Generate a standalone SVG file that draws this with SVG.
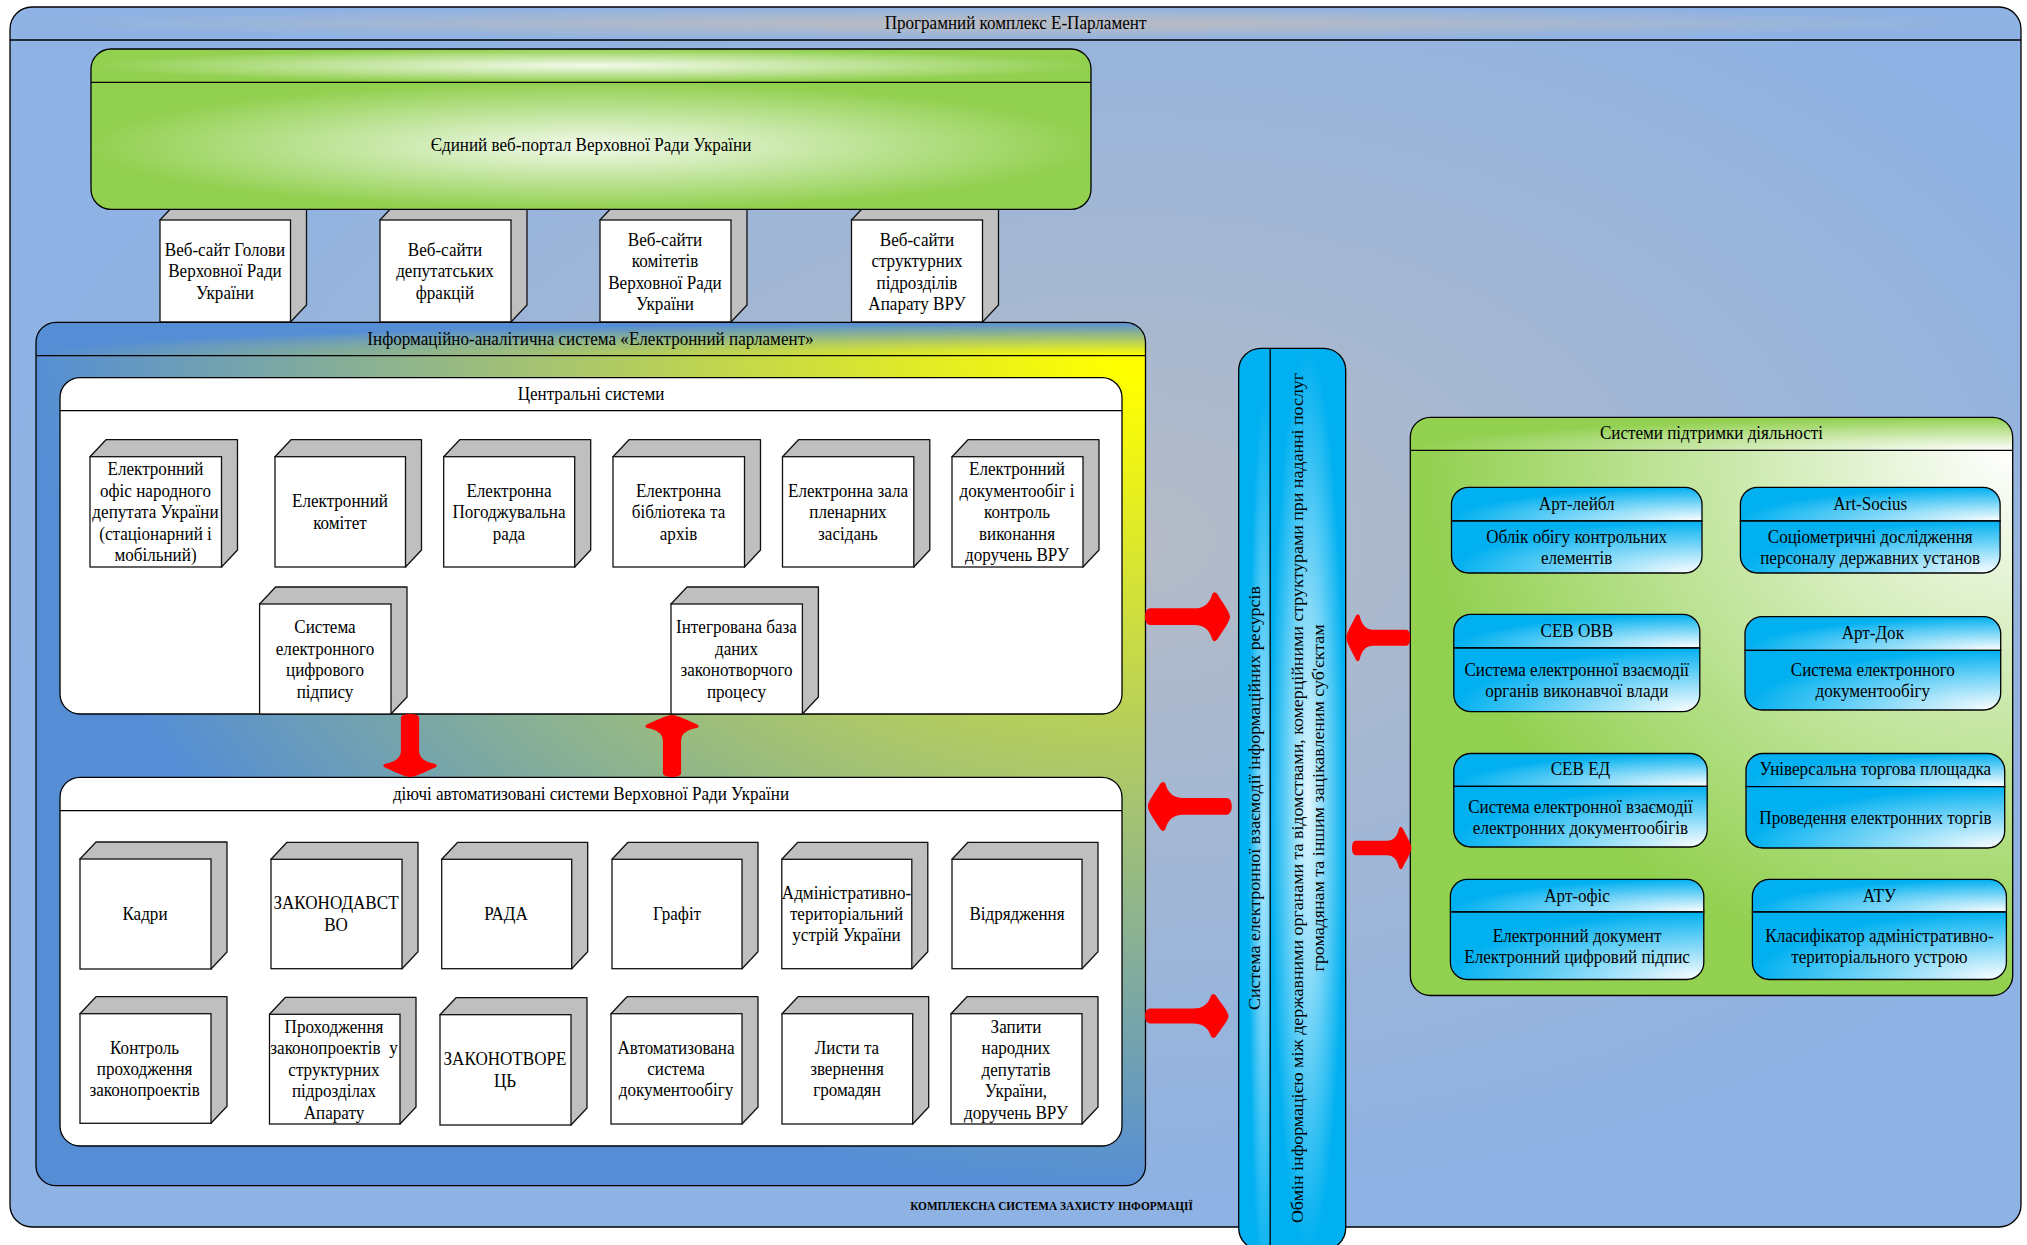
<svg xmlns="http://www.w3.org/2000/svg" width="2027" height="1245" viewBox="0 0 2027 1245">
<style>
text{font-family:"Liberation Serif","Times New Roman",serif;font-size:17.9px;fill:#000;text-anchor:middle}
text:not(.v){transform-box:fill-box;transform-origin:center;transform:scaleX(.954)}
.b{font-size:11.85px;font-weight:bold}
.l{stroke:#000;stroke-width:1.3;fill:none}
.s{fill:#bfbfbf;stroke:#111;stroke-width:1.3;stroke-linejoin:round}
.f{fill:#fff;stroke:#111;stroke-width:1.3}
.w{fill:#fff;stroke:#000;stroke-width:1.3}
.n{fill:url(#gBlue);stroke:#000;stroke-width:1.3}
.ar{fill:#f00;stroke:none}
</style>
<defs>
<radialGradient id="gOuter" cx="0.55" cy="0.42" r="0.55"><stop offset="0" stop-color="#b5bbc6"/><stop offset="1" stop-color="#8eb2e3"/></radialGradient>
<radialGradient id="gOuterT" cx="0.5" cy="0.5" r="0.5"><stop offset="0.2" stop-color="#b5bbc6"/><stop offset="1" stop-color="#8eb2e3"/></radialGradient>
<radialGradient id="gPortal" cx="0.5" cy="0.5" r="0.5"><stop offset="0" stop-color="#f2faeb"/><stop offset="1" stop-color="#92d050"/></radialGradient>
<radialGradient id="gIas" cx="1" cy="0" r="1"><stop offset="0.03" stop-color="#ffff00"/><stop offset="1" stop-color="#558ed5"/></radialGradient>
<radialGradient id="gIasT" cx="1" cy="1" r="1"><stop offset="0" stop-color="#ffff00"/><stop offset="1" stop-color="#558ed5"/></radialGradient>
<radialGradient id="gSup" cx="1" cy="0" r="0.98"><stop offset="0" stop-color="#ffffff"/><stop offset="1" stop-color="#92d050"/></radialGradient>
<radialGradient id="gSupT" cx="1" cy="1" r="1"><stop offset="0" stop-color="#ffffff"/><stop offset="1" stop-color="#92d050"/></radialGradient>
<radialGradient id="gBlue" cx="1" cy="1" r="1"><stop offset="0" stop-color="#ffffff"/><stop offset="1" stop-color="#00b0f0"/></radialGradient>
<radialGradient id="gBus1" cx="0.8" cy="0.55" r="0.5"><stop offset="0" stop-color="#b5e8fd"/><stop offset="1" stop-color="#00b0f0"/></radialGradient>
<radialGradient id="gBus2" cx="0.5" cy="0.5" r="0.5"><stop offset="0" stop-color="#e6f8ff"/><stop offset="1" stop-color="#00b0f0"/></radialGradient>
<path id="arrow" d="M6,-17H58C70,-17 76,-28 79,-46Q80,-50 82,-50Q84,-50 86,-44C90,-32 100,-10 100,0C100,10 90,32 86,44Q84,50 82,50Q80,50 79,46C76,28 70,17 58,17H6C-2,17 -2,-17 6,-17Z"/>
</defs>

<g id="outer">
<path d="M10,40V29A22,22 0 0 1 32,7H1999A22,22 0 0 1 2021,29V40Z" fill="url(#gOuterT)"/>
<path d="M10,40H2021V1205A22,22 0 0 1 1999,1227H32A22,22 0 0 1 10,1205Z" fill="url(#gOuter)"/>
<rect class="l" x="10" y="7" width="2011" height="1220" rx="22"/>
<path class="l" d="M10,40H2021"/>
<text x="1015.500" y="29.500">Програмний комплекс Е-Парламент</text>
<text class="b" x="1051.500" y="1210">КОМПЛЕКСНА СИСТЕМА ЗАХИСТУ ІНФОРМАЦІЇ</text>
</g>

<g id="site1"><path class="s" d="M160,220l16,-17h130.500v102l-16,17z"/><rect class="f" x="160" y="220" width="130.500" height="102"/><text><tspan x="225" y="256">Веб-сайт Голови</tspan><tspan x="225" y="277.500">Верховної Ради</tspan><tspan x="225" y="299">України</tspan></text></g>
<g id="site2"><path class="s" d="M380,220l16,-17h131v102l-16,17z"/><rect class="f" x="380" y="220" width="131" height="102"/><text><tspan x="445" y="256">Веб-сайти</tspan><tspan x="445" y="277.500">депутатських</tspan><tspan x="445" y="299">фракцій</tspan></text></g>
<g id="site3"><path class="s" d="M600,220l16,-17h131v102l-16,17z"/><rect class="f" x="600" y="220" width="131" height="102"/><text><tspan x="665" y="246">Веб-сайти</tspan><tspan x="665" y="267.500">комітетів</tspan><tspan x="665" y="289">Верховної Ради</tspan><tspan x="665" y="310.500">України</tspan></text></g>
<g id="site4"><path class="s" d="M851.500,220l16,-17h131v102l-16,17z"/><rect class="f" x="851.500" y="220" width="131" height="102"/><text><tspan x="917" y="246">Веб-сайти</tspan><tspan x="917" y="267.500">структурних</tspan><tspan x="917" y="289">підрозділів</tspan><tspan x="917" y="310.500">Апарату ВРУ</tspan></text></g>

<g id="portal">
<path d="M91,82.300V69A20,20 0 0 1 111,49H1071A20,20 0 0 1 1091,69V82.300Z" fill="url(#gPortal)"/>
<path d="M91,82.300H1091V189A20,20 0 0 1 1071,209.300H111A20,20 0 0 1 91,189Z" fill="url(#gPortal)"/>
<rect class="l" x="91" y="49" width="1000" height="160.300" rx="20"/>
<path class="l" d="M91,82.300H1091"/>
<text x="591" y="151">Єдиний веб-портал Верховної Ради України</text>
</g>

<g id="ias">
<path d="M36,355.700V342A20,20 0 0 1 56,322.300H1125.500A20,20 0 0 1 1145.500,342V355.700Z" fill="url(#gIasT)"/>
<path d="M36,355.700H1145.500V1166A20,20 0 0 1 1125.500,1185.700H56A20,20 0 0 1 36,1166Z" fill="url(#gIas)"/>
<rect class="l" x="36" y="322.300" width="1109.500" height="863.400" rx="20"/>
<path class="l" d="M36,355.700H1145.500"/>
<text x="590.500" y="345.500">Інформаційно-аналітична система «Електронний парламент»</text>
</g>

<g id="central">
<rect class="w" x="60" y="377.700" width="1062" height="336.300" rx="20"/>
<path class="l" d="M60,410.700H1122"/>
<text x="591" y="400.500">Центральні системи</text>
</g>

<g id="c1"><path class="s" d="M90,456.700l16,-17h131.500v110.300l-16,17z"/><rect class="f" x="90" y="456.700" width="131.500" height="110.300"/><text><tspan x="155.500" y="475.500">Електронний</tspan><tspan x="155.500" y="497">офіс народного</tspan><tspan x="155.500" y="518.300">депутата України</tspan><tspan x="155.500" y="539.700">(стаціонарний і</tspan><tspan x="155.500" y="561">мобільний)</tspan></text></g>
<g id="c2"><path class="s" d="M275,456.700l16,-17h130.500v110.300l-16,17z"/><rect class="f" x="275" y="456.700" width="130.500" height="110.300"/><text><tspan x="340" y="507.500">Електронний</tspan><tspan x="340" y="529">комітет</tspan></text></g>
<g id="c3"><path class="s" d="M443.700,456.700l16,-17h131v110.300l-16,17z"/><rect class="f" x="443.700" y="456.700" width="131" height="110.300"/><text><tspan x="509" y="497">Електронна</tspan><tspan x="509" y="518.300">Погоджувальна</tspan><tspan x="509" y="539.700">рада</tspan></text></g>
<g id="c4"><path class="s" d="M613,456.700l16,-17h131.500v110.300l-16,17z"/><rect class="f" x="613" y="456.700" width="131.500" height="110.300"/><text><tspan x="678.500" y="497">Електронна</tspan><tspan x="678.500" y="518.300">бібліотека та</tspan><tspan x="678.500" y="539.700">архів</tspan></text></g>
<g id="c5"><path class="s" d="M782.500,456.700l16,-17h131.300v110.300l-16,17z"/><rect class="f" x="782.500" y="456.700" width="131.300" height="110.300"/><text><tspan x="848" y="497">Електронна зала</tspan><tspan x="848" y="518.300">пленарних</tspan><tspan x="848" y="539.700">засідань</tspan></text></g>
<g id="c6"><path class="s" d="M952,456.700l16,-17h131v110.300l-16,17z"/><rect class="f" x="952" y="456.700" width="131" height="110.300"/><text><tspan x="1017" y="475.500">Електронний</tspan><tspan x="1017" y="497">документообіг і</tspan><tspan x="1017" y="518.300">контроль</tspan><tspan x="1017" y="539.700">виконання</tspan><tspan x="1017" y="561">доручень ВРУ</tspan></text></g>
<g id="c7"><path class="s" d="M259.600,604l16,-17h131.400v110l-16,17z"/><rect class="f" x="259.600" y="604" width="131.400" height="110"/><text><tspan x="325" y="633.500">Система</tspan><tspan x="325" y="655">електронного</tspan><tspan x="325" y="676.500">цифрового</tspan><tspan x="325" y="698">підпису</tspan></text></g>
<g id="c8"><path class="s" d="M671,604l16,-17h131.400v110l-16,17z"/><rect class="f" x="671" y="604" width="131.400" height="110"/><text><tspan x="736.500" y="633.500">Інтегрована база</tspan><tspan x="736.500" y="655">даних</tspan><tspan x="736.500" y="676.500">законотворчого</tspan><tspan x="736.500" y="698">процесу</tspan></text></g>

<g id="auto">
<rect class="w" x="60" y="777.300" width="1062" height="368.700" rx="20"/>
<path class="l" d="M60,810.700H1122"/>
<text x="591" y="800.500">діючі автоматизовані системи Верховної Ради України</text>
</g>

<g id="a1"><path class="s" d="M80,859l16,-17h131v110l-16,17z"/><rect class="f" x="80" y="859" width="131" height="110"/><text x="145" y="920">Кадри</text></g>
<g id="a2"><path class="s" d="M271,859.300l16,-17h131v109.400l-16,17z"/><rect class="f" x="271" y="859.300" width="131" height="109.400"/><text><tspan x="336" y="909.500">ЗАКОНОДАВСТ</tspan><tspan x="336" y="931">ВО</tspan></text></g>
<g id="a3"><path class="s" d="M441.700,859.300l16,-17h130v109.400l-16,17z"/><rect class="f" x="441.700" y="859.300" width="130" height="109.400"/><text x="506" y="920">РАДА</text></g>
<g id="a4"><path class="s" d="M612,859.300l16,-17h130v109.400l-16,17z"/><rect class="f" x="612" y="859.300" width="130" height="109.400"/><text x="677" y="920">Графіт</text></g>
<g id="a5"><path class="s" d="M781.800,859.300l16,-17h130v109.400l-16,17z"/><rect class="f" x="781.800" y="859.300" width="130" height="109.400"/><text><tspan x="846.500" y="899">Адміністративно-</tspan><tspan x="846.500" y="920">територіальний</tspan><tspan x="846.500" y="941">устрій України</tspan></text></g>
<g id="a6"><path class="s" d="M952,859.300l16,-17h130v109.400l-16,17z"/><rect class="f" x="952" y="859.300" width="130" height="109.400"/><text x="1017" y="920">Відрядження</text></g>

<g id="a7"><path class="s" d="M80,1013.700l16,-17h131v109.600l-16,17z"/><rect class="f" x="80" y="1013.700" width="131" height="109.600"/><text><tspan x="144.600" y="1054">Контроль</tspan><tspan x="144.600" y="1075">проходження</tspan><tspan x="144.600" y="1096.500">законопроектів</tspan></text></g>
<g id="a8"><path class="s" d="M269.500,1014.300l16,-17h130.500v109.700l-16,17z"/><rect class="f" x="269.500" y="1014.300" width="130.500" height="109.700"/><text xml:space="preserve"><tspan x="334" y="1033">Проходження</tspan><tspan x="334" y="1054.500">законопроектів  у</tspan><tspan x="334" y="1076">структурних</tspan><tspan x="334" y="1097.500">підрозділах</tspan><tspan x="334" y="1119">Апарату</tspan></text></g>
<g id="a9"><path class="s" d="M440,1014.700l16,-17h131v110.300l-16,17z"/><rect class="f" x="440" y="1014.700" width="131" height="110.300"/><text><tspan x="505" y="1065">ЗАКОНОТВОРЕ</tspan><tspan x="505" y="1087">ЦЬ</tspan></text></g>
<g id="a10"><path class="s" d="M611,1013.700l16,-17h131v110.300l-16,17z"/><rect class="f" x="611" y="1013.700" width="131" height="110.300"/><text><tspan x="676" y="1054">Автоматизована</tspan><tspan x="676" y="1075">система</tspan><tspan x="676" y="1096.500">документообігу</tspan></text></g>
<g id="a11"><path class="s" d="M782,1013.700l16,-17h130.700v110.300l-16,17z"/><rect class="f" x="782" y="1013.700" width="130.700" height="110.300"/><text><tspan x="847" y="1054">Листи та</tspan><tspan x="847" y="1075">звернення</tspan><tspan x="847" y="1096.500">громадян</tspan></text></g>
<g id="a12"><path class="s" d="M951,1013.700l16,-17h131v110.300l-16,17z"/><rect class="f" x="951" y="1013.700" width="131" height="110.300"/><text><tspan x="1016" y="1033">Запити</tspan><tspan x="1016" y="1054.500">народних</tspan><tspan x="1016" y="1076">депутатів</tspan><tspan x="1016" y="1097.500">України,</tspan><tspan x="1016" y="1119">доручень ВРУ</tspan></text></g>

<g id="bus">
<path d="M1270.200,348.300H1260.700A22,22 0 0 0 1238.700,370V1228A22,22 0 0 0 1260.700,1250H1270.200Z" fill="url(#gBus1)"/>
<path d="M1270.200,348.300H1323.700A22,22 0 0 1 1345.700,370V1228A22,22 0 0 1 1323.700,1250H1270.200Z" fill="url(#gBus2)"/>
<rect class="l" x="1238.700" y="348.300" width="107" height="901.700" rx="22"/>
<path class="l" d="M1270.200,348.300V1250"/>
<text class="v" transform="translate(1259.500,798) rotate(-90) scale(1,.954)">Система електронної взаємодії інформаційних ресурсів</text>
<text class="v" transform="translate(1303,798) rotate(-90) scale(1,.954)">Обмін інформацією між державними органами та відомствами, комерційними структурами при наданні послуг</text>
<text class="v" transform="translate(1324,798) rotate(-90) scale(1,.954)">громадянам та іншим зацікавленим суб'єктам</text>
</g>

<g id="support">
<path d="M1410.300,450.300V437A20,20 0 0 1 1430.300,417.300H1992.700A20,20 0 0 1 2012.700,437V450.300Z" fill="url(#gSupT)"/>
<path d="M1410.300,450.300H2012.700V975.500A20,20 0 0 1 1992.700,995.500H1430.300A20,20 0 0 1 1410.300,975.500Z" fill="url(#gSup)"/>
<rect class="l" x="1410.300" y="417.300" width="602.400" height="578.200" rx="20"/>
<path class="l" d="M1410.300,450.300H2012.700"/>
<text x="1711.500" y="439.500">Системи підтримки діяльності</text>
</g>

<g id="s1"><path class="n" d="M1451.500,521V504A17,17 0 0 1 1468.500,487.300H1685A17,17 0 0 1 1702,504V521Z"/><path class="n" d="M1451.500,521H1702V556A17,17 0 0 1 1685,573H1468.500A17,17 0 0 1 1451.500,556Z"/><text x="1576.700" y="510">Арт-лейбл</text><text><tspan x="1576.700" y="543">Облік обігу контрольних</tspan><tspan x="1576.700" y="564">елементів</tspan></text></g>
<g id="s2"><path class="n" d="M1740.400,521V504A17,17 0 0 1 1757.400,487.300H1983.100A17,17 0 0 1 2000.100,504V521Z"/><path class="n" d="M1740.400,521H2000.100V556A17,17 0 0 1 1983.100,573H1757.400A17,17 0 0 1 1740.400,556Z"/><text x="1870.200" y="510">Art-Socius</text><text><tspan x="1870.200" y="543">Соціометричні дослідження</tspan><tspan x="1870.200" y="564">персоналу державних установ</tspan></text></g>
<g id="s3"><path class="n" d="M1453.800,648V631A17,17 0 0 1 1470.800,614.300H1682.800A17,17 0 0 1 1699.800,631V648Z"/><path class="n" d="M1453.800,648H1699.800V695A17,17 0 0 1 1682.800,711.700H1470.800A17,17 0 0 1 1453.800,695Z"/><text x="1576.800" y="637">СЕВ ОВВ</text><text><tspan x="1576.800" y="676">Система електронної взаємодії</tspan><tspan x="1576.800" y="697">органів виконавчої влади</tspan></text></g>
<g id="s4"><path class="n" d="M1745,650.300V633A17,17 0 0 1 1762,616.700H1983.700A17,17 0 0 1 2000.700,633V650.300Z"/><path class="n" d="M1745,650.300H2000.700V693A17,17 0 0 1 1983.700,710H1762A17,17 0 0 1 1745,693Z"/><text x="1872.800" y="639">Арт-Док</text><text><tspan x="1872.800" y="676">Система електронного</tspan><tspan x="1872.800" y="697">документообігу</tspan></text></g>
<g id="s5"><path class="n" d="M1453.800,786.300V770A17,17 0 0 1 1470.800,753.500H1690.200A17,17 0 0 1 1707.200,770V786.300Z"/><path class="n" d="M1453.800,786.300H1707.200V830A17,17 0 0 1 1690.200,847H1470.800A17,17 0 0 1 1453.800,830Z"/><text x="1580.500" y="775.500">СЕВ ЕД</text><text><tspan x="1580.500" y="812.700">Система електронної взаємодії</tspan><tspan x="1580.500" y="834">електронних документообігів</tspan></text></g>
<g id="s6"><path class="n" d="M1746,786.600V770A17,17 0 0 1 1763,753.500H1987.700A17,17 0 0 1 2004.700,770V786.600Z"/><path class="n" d="M1746,786.600H2004.700V831A17,17 0 0 1 1987.700,848H1763A17,17 0 0 1 1746,831Z"/><text x="1875.400" y="775.500">Універсальна торгова площадка</text><text x="1875.400" y="823.800">Проведення електронних торгів</text></g>
<g id="s7"><path class="n" d="M1450.400,912V896A17,17 0 0 1 1467.400,879.400H1686.800A17,17 0 0 1 1703.800,896V912Z"/><path class="n" d="M1450.400,912H1703.800V962.500A17,17 0 0 1 1686.800,979.500H1467.400A17,17 0 0 1 1450.400,962.500Z"/><text x="1577.100" y="901.800">Арт-офіс</text><text><tspan x="1577.100" y="942">Електронний документ</tspan><tspan x="1577.100" y="962.700">Електронний цифровий підпис</tspan></text></g>
<g id="s8"><path class="n" d="M1752.400,912V896A17,17 0 0 1 1769.400,879.400H1989.400A17,17 0 0 1 2006.400,896V912Z"/><path class="n" d="M1752.400,912H2006.400V962.500A17,17 0 0 1 1989.400,979.500H1769.400A17,17 0 0 1 1752.400,962.500Z"/><text x="1879.400" y="901.800">АТУ</text><text><tspan x="1879.400" y="942">Класифікатор адміністративно-</tspan><tspan x="1879.400" y="962.700">територіального устрою</tspan></text></g>

<g id="connectors" class="ar">
<use href="#arrow" transform="translate(410,714) rotate(90) scale(0.63,0.535)"/>
<use href="#arrow" transform="translate(672,777) rotate(-90) scale(0.62,0.535)"/>
<use href="#arrow" transform="translate(1145,616.700) scale(0.85,0.49)"/>
<use href="#arrow" transform="translate(1231.800,806.400) rotate(180) scale(0.84,0.49)"/>
<use href="#arrow" transform="translate(1145,1016) scale(0.835,0.44)"/>
<use href="#arrow" transform="translate(1410.300,637.700) rotate(180) scale(0.64,0.47)"/>
<use href="#arrow" transform="translate(1352,848) scale(0.595,0.425)"/>
</g>
</svg>
